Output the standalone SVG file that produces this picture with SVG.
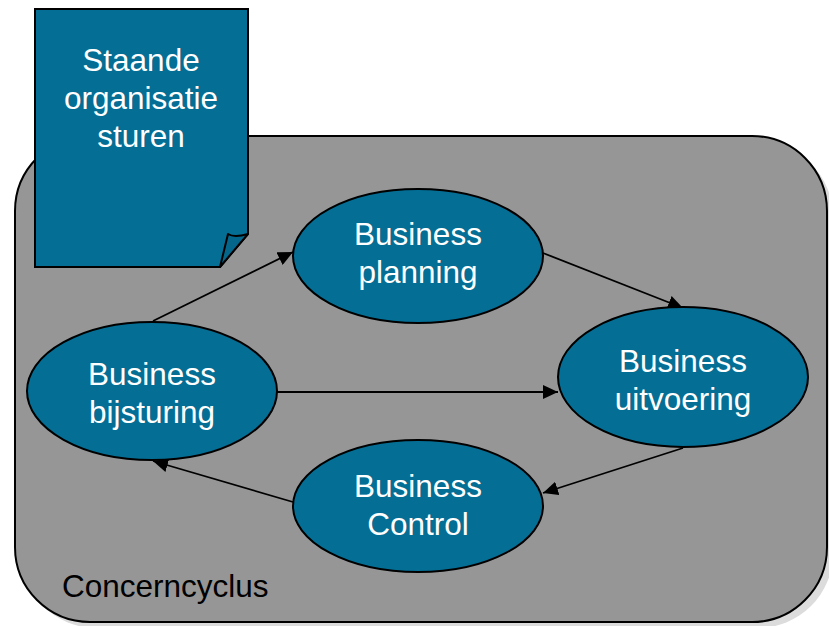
<svg xmlns="http://www.w3.org/2000/svg" width="829" height="626" viewBox="0 0 829 626">
<style>
.node{fill:#046e95;stroke:#000;stroke-width:2}
.lbl{font-family:"Liberation Sans",Arial,sans-serif;font-size:31.5px;fill:#fff;text-anchor:middle}
.conn{stroke:#000;stroke-width:1.8;fill:none;marker-end:url(#ah)}
</style>
<defs>
<marker id="ah" markerUnits="userSpaceOnUse" markerWidth="16" markerHeight="14" refX="15" refY="7" orient="auto">
<path d="M0,0 L15,7 L0,14 Z" fill="#000"/>
</marker>
</defs>
<g id="container">
<rect x="21" y="142" width="812" height="486" rx="75" ry="75" fill="#dcdcdc"/>
<rect x="15" y="136" width="812" height="486" rx="75" ry="75" fill="#969696" stroke="#000" stroke-width="2"/>
<text x="62" y="597" font-family="Liberation Sans,Arial,sans-serif" font-size="31.5" fill="#000">Concerncyclus</text>
</g>
<g id="doc">
<path d="M35,9 L248,9 L248,234 L220,267 L35,267 Z" class="node"/>
<path d="M220,267 L228,234 Q234,238 248,234 Z" fill="#05668b" stroke="#000" stroke-width="2" stroke-linejoin="round"/>
<text class="lbl"><tspan x="141" y="71">Staande</tspan><tspan x="141" y="109">organisatie</tspan><tspan x="141" y="147">sturen</tspan></text>
</g>
<g id="connectors">
<line class="conn" x1="153" y1="321" x2="293" y2="252"/>
<line class="conn" x1="543" y1="253" x2="683" y2="308"/>
<line class="conn" x1="277" y1="392" x2="558" y2="392"/>
<line class="conn" x1="683" y1="448" x2="543" y2="493"/>
<line class="conn" x1="293" y1="502" x2="153" y2="461"/>
</g>
<g id="planning">
<ellipse cx="418" cy="256" rx="125" ry="67" class="node"/>
<text class="lbl"><tspan x="418" y="245">Business</tspan><tspan x="418" y="283">planning</tspan></text>
</g>
<g id="bijsturing">
<ellipse cx="152" cy="391" rx="125" ry="69" class="node"/>
<text class="lbl"><tspan x="152" y="385">Business</tspan><tspan x="152" y="423">bijsturing</tspan></text>
</g>
<g id="uitvoering">
<ellipse cx="683" cy="377" rx="125" ry="70" class="node"/>
<text class="lbl"><tspan x="683" y="372">Business</tspan><tspan x="683" y="410">uitvoering</tspan></text>
</g>
<g id="control">
<ellipse cx="418" cy="506" rx="125" ry="66" class="node"/>
<text class="lbl"><tspan x="418" y="497">Business</tspan><tspan x="418" y="535">Control</tspan></text>
</g>
</svg>
